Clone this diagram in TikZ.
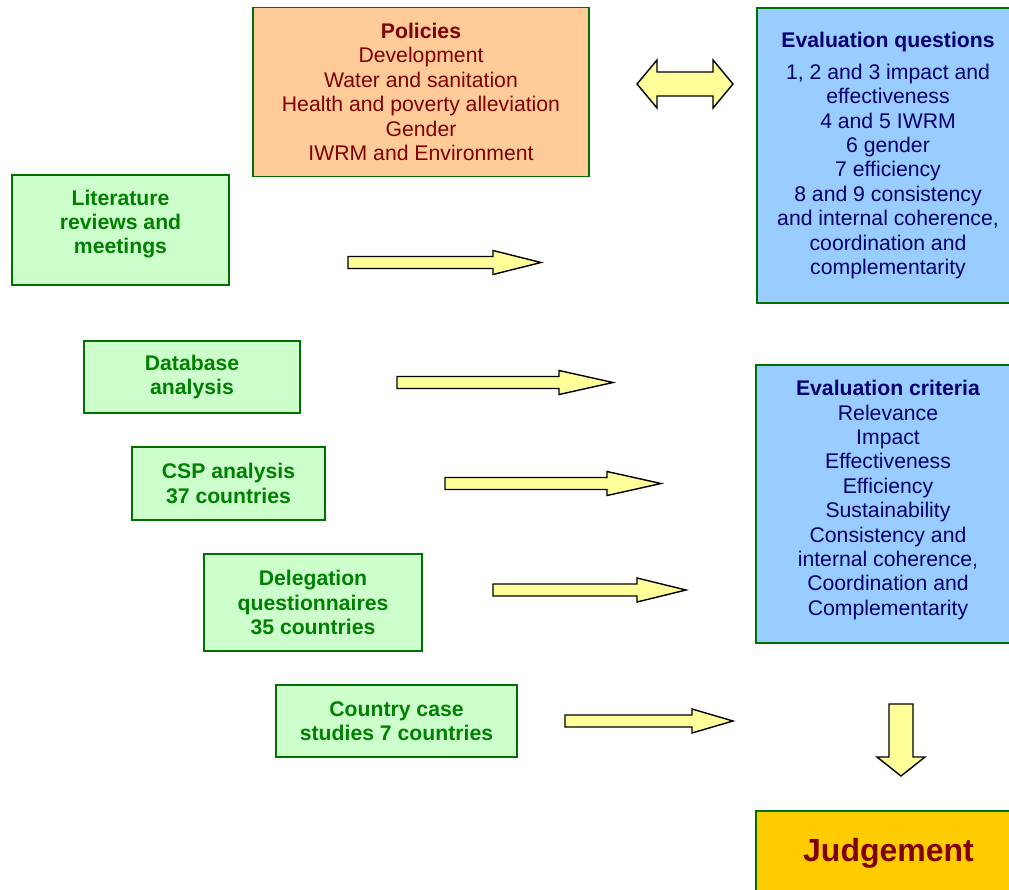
\documentclass[tikz,border=0pt]{standalone}
\usepackage{fontspec}
\setmainfont{Liberation Sans}
\definecolor{boxgreen}{HTML}{007000}
\definecolor{peach}{HTML}{FFCC99}
\definecolor{skyblue}{HTML}{99CCFF}
\definecolor{palegreen}{HTML}{CCFFCC}
\definecolor{gold}{HTML}{FFCC00}
\definecolor{darkred}{HTML}{800000}
\definecolor{navytext}{HTML}{000070}
\definecolor{greentext}{HTML}{008000}
\definecolor{arrowfill}{HTML}{FFFF99}
\newcommand\RArrow[4]{%
  \draw[blockarrow] (#1,#4-6) -- (#2,#4-6) -- (#2,#4-12) -- (#3,#4) -- (#2,#4+12) -- (#2,#4+6) -- (#1,#4+6) -- cycle;}
\tikzset{
  basefont/.style={font=\fontsize{21.2}{24.4}\selectfont},
  boxframe/.style={draw=boxgreen, line width=1.8pt, rectangle, inner sep=0pt},
  policybox/.style={boxframe, fill=peach, text=darkred, basefont, align=center},
  bluebox/.style={boxframe, fill=skyblue, text=navytext, basefont, align=center},
  greenbox/.style={boxframe, fill=palegreen, text=greentext, basefont, align=center, font=\fontsize{21.2}{24.4}\selectfont\bfseries},
  greenlabel/.style={text=greentext, align=center, inner sep=0pt, font=\fontsize{21.2}{24.4}\selectfont\bfseries},
  bluelabel/.style={text=navytext, align=center, inner sep=0pt, basefont},
  judgebox/.style={boxframe, fill=gold},
  judgelabel/.style={text=darkred, inner sep=0pt, font=\fontsize{32}{36}\selectfont\bfseries},
  blockarrow/.style={draw=black, fill=arrowfill, line width=1.4pt, line join=miter}
}
\begin{document}
\begin{tikzpicture}[x=1pt,y=-1pt]
\useasboundingbox (0,0) rectangle (1009,889);
% Policies
\node[policybox, minimum width=336pt, minimum height=169pt] (pol) at (421,92)
  {\textbf{Policies}\\Development\\Water and sanitation\\Health and poverty alleviation\\Gender\\IWRM and Environment};
% Evaluation questions
\node[bluebox, minimum width=262pt, minimum height=295pt] (evq) at (888,155.5)
  {\textbf{Evaluation questions}\\[7.6pt]1, 2 and 3 impact and\\effectiveness\\4 and 5 IWRM\\6 gender\\7 efficiency\\8 and 9 consistency\\and internal coherence,\\coordination and\\complementarity};
% Evaluation criteria
\node[boxframe, fill=skyblue, minimum width=263pt, minimum height=278pt] (evc) at (887.5,504) {};
\node[bluelabel] (evctxt) at (888,500)
  {\textbf{Evaluation criteria}\\Relevance\\Impact\\Effectiveness\\Efficiency\\Sustainability\\Consistency and\\internal coherence,\\Coordination and\\Complementarity};
% Judgement
\node[judgebox, minimum width=264pt, minimum height=150pt] (judg) at (888,886) {};
\node[judgelabel] (judgtxt) at (888.5,853) {Judgement};
% Method boxes
\node[boxframe, fill=palegreen, minimum width=217pt, minimum height=110pt] (lit) at (120.5,230) {};
\node[greenlabel] (littxt) at (120.5,224) {Literature\\reviews and\\meetings};
\node[greenbox, minimum width=216pt, minimum height=72pt] (db) at (192,377) {Database\\analysis};
\node[greenbox, minimum width=193pt, minimum height=73pt] (csp) at (228.5,483.5) {CSP analysis\\37 countries};
\node[greenbox, minimum width=218pt, minimum height=97pt] (del) at (313,602.5) {Delegation\\questionnaires\\35 countries};
\node[greenbox, minimum width=241pt, minimum height=72pt] (ccs) at (396.5,721) {Country case\\studies 7 countries};
% Block arrows
\RArrow{348}{493}{541}{262.5}
\RArrow{397}{559}{613}{382.5}
\RArrow{445}{607}{661}{483.5}
\RArrow{493}{637}{686}{590}
\RArrow{565}{692}{733}{721}
% double arrow
\draw[blockarrow] (637,84) -- (657,60) -- (657,72) -- (713,72) -- (713,60) -- (733,84) -- (713,108) -- (713,96) -- (657,96) -- (657,108) -- cycle;
% down arrow
\draw[blockarrow] (889,704) -- (913,704) -- (913,757) -- (925,757) -- (901,776) -- (877,757) -- (889,757) -- cycle;
\end{tikzpicture}
\end{document}
